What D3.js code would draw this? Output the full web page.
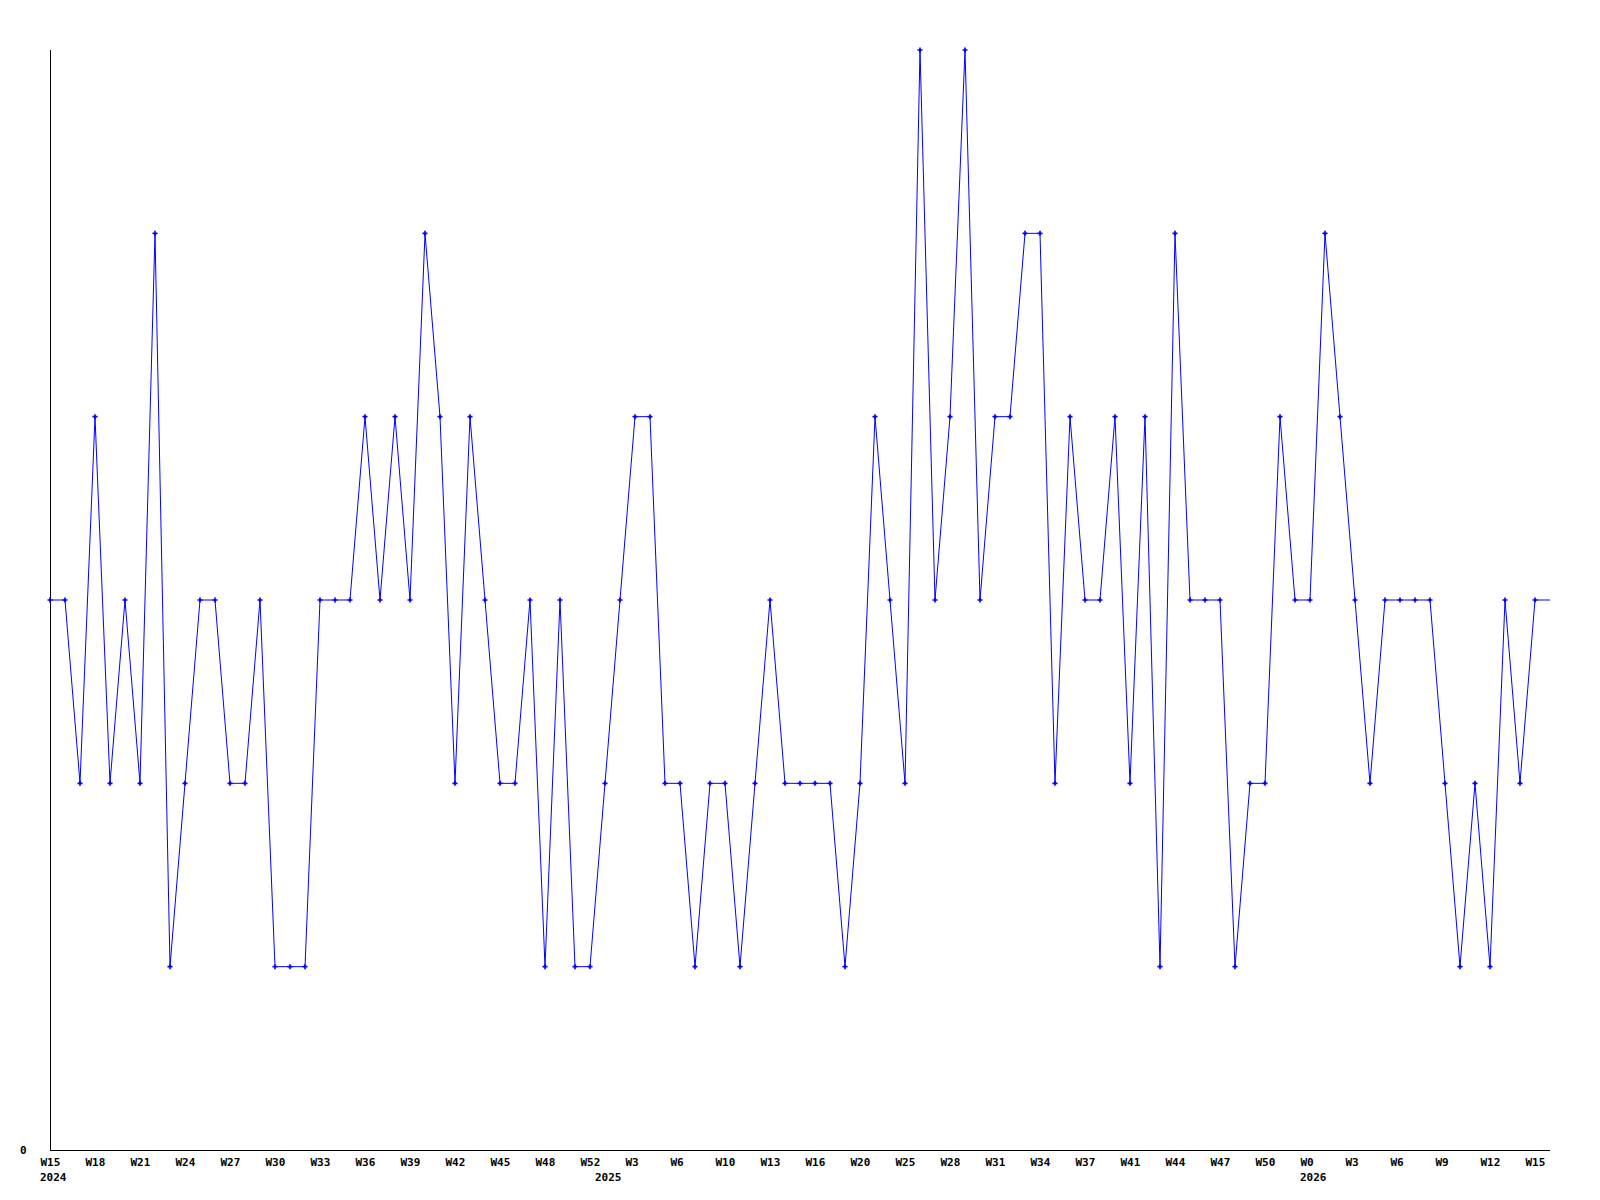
<!DOCTYPE html>
<html>
<head>
<meta charset="utf-8">
<script src="https://cdn.jsdelivr.net/npm/d3@7"></script>
<style>
  html, body { margin: 0; padding: 0; background: #fff; }
  svg { display: block; }
  text { font-family: "DejaVu Sans Mono", "Liberation Mono", monospace; font-weight: bold; font-size: 11px; fill: #000; }
</style>
</head>
<body>
<svg id="chart" width="1600" height="1200"></svg>
<script>
// Weekly values, W15 2024 .. W15 2026
const values = [
  3,3,2,4,2,3,2,5,1,2,
  3,3,2,2,3,1,1,1,3,3,
  3,4,3,4,3,5,4,2,4,3,
  2,2,3,1,3,1,1,2,3,4,
  4,2,2,1,2,2,1,2,3,2,
  2,2,2,1,2,4,3,2,6,3,
  4,6,3,4,4,5,5,2,4,3,
  3,4,2,4,1,5,3,3,3,1,
  2,2,4,3,3,5,4,3,2,3,
  3,3,3,2,1,2,1,3,2,3
];
// Tick labels, one every 3 weeks
const weekLabels = ["W15","W18","W21","W24","W27","W30","W33","W36","W39","W42","W45","W48","W52","W3","W6","W10","W13","W16","W20","W25","W28","W31","W34","W37","W41","W44","W47","W50","W0","W3","W6","W9","W12","W15"];
const weekTickStep = 3;
// Year labels and the week index where each year starts
const yearLabels = ["2024","2025","2026"];
const yearIndex = [0, 37, 84];
const yTickValues = [0];
const yMax = 6;

(function () {
const svg = d3.select("#chart");
const mLeft = 50, mTop = 50, mRight = 1550, mBottom = 1150;

const x = d3.scaleLinear().domain([0, values.length]).range([mLeft, mRight]);
const y = d3.scaleLinear().domain([0, yMax]).range([mBottom, mTop]);

// Axes
const xAxis = d3.axisBottom(x)
  .tickValues(weekLabels.map((_, i) => i * weekTickStep))
  .tickFormat((d, i) => weekLabels[i])
  .tickSize(0).tickPadding(0);
const gx = svg.append("g").attr("transform", `translate(0,${mBottom})`).call(xAxis);
gx.select(".domain").attr("stroke", "#000").attr("stroke-width", 1).attr("d", `M${mLeft},0.5H${mRight}`);
gx.selectAll(".tick text").attr("text-anchor", "start").attr("dx", -10).attr("y", 16).attr("dy", 0)
  .style("font-family", '"DejaVu Sans Mono", monospace').style("font-weight", "bold").style("font-size", "11px");

const yAxis = d3.axisLeft(y).tickValues(yTickValues).tickFormat(d3.format("d")).tickSize(0).tickPadding(0);
const gy = svg.append("g").attr("transform", `translate(${mLeft},0)`).call(yAxis);
gy.select(".domain").attr("stroke", "#000").attr("stroke-width", 1).attr("d", `M0.5,${mTop}V${mBottom}`);
gy.selectAll(".tick text").attr("text-anchor", "start").attr("x", 20 - mLeft).attr("dy", "0.3em")
  .style("font-family", '"DejaVu Sans Mono", monospace').style("font-weight", "bold").style("font-size", "11px");

// Year labels
svg.append("g").selectAll("text").data(yearLabels).join("text")
  .attr("x", (d, i) => x(yearIndex[i]) - 10)
  .attr("y", mBottom + 31)
  .text(d => d);

// Line (last value held to the right edge)
const lineData = values.map((v, i) => [i, v]).concat([[values.length, values[values.length - 1]]]);
const line = d3.line().x(d => x(d[0])).y(d => y(d[1]));
svg.append("path").datum(lineData)
  .attr("fill", "none").attr("stroke", "#0000ff").attr("stroke-width", 1)
  .attr("d", line);

// Markers
const sym = d3.symbol(d3.symbolCross).size(14);
svg.append("g").selectAll("path").data(values).join("path")
  .attr("transform", (d, i) => `translate(${x(i)},${y(d)})`)
  .attr("d", sym)
  .attr("fill", "#0000ff");
})();
</script>
</body>
</html>
